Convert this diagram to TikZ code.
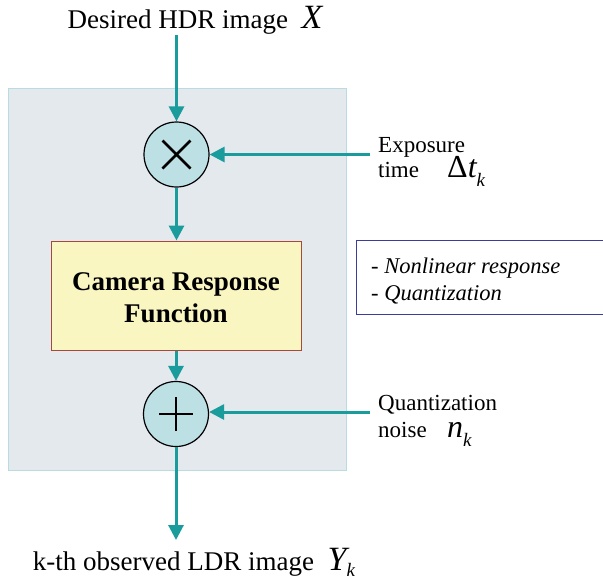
\documentclass[tikz,border=0pt]{standalone}
\usepackage{fontspec}
\setmainfont{Liberation Serif}
\usetikzlibrary{arrows.meta,positioning}
\definecolor{teal1}{HTML}{1A9C9C}
\definecolor{panelbg}{HTML}{E4E9EE}
\definecolor{panelline}{HTML}{B9DCE2}
\definecolor{crfbg}{HTML}{FAF6C2}
\definecolor{crfline}{HTML}{A8483A}
\definecolor{opfill}{HTML}{BCE0E4}
\definecolor{notebox}{HTML}{3C3C9C}
\newcommand{\subk}[2][0.4em]{\raisebox{-#1}{\fontsize{19}{19}\selectfont\itshape #2}}
\begin{document}
\begin{tikzpicture}[x=1pt,y=-1pt,
  flow/.style={draw=teal1,line width=3pt,-{Triangle[length=15pt,width=15pt]}},
  opnode/.style={circle,draw=black,line width=1.2pt,fill=opfill,minimum size=65pt,inner sep=0pt},
  lbl/.style={font=\fontsize{23}{27}\selectfont,inner sep=0pt,anchor=base west},
  caption/.style={font=\fontsize{27}{30}\selectfont,inner sep=0pt,anchor=base}]
\useasboundingbox (0,0) rectangle (603,582);
% shaded panel
\fill[panelbg,draw=panelline,line width=1pt] (8,88) rectangle (346,470);
% operators
\node[opnode] (mul) at (176.5,154.5) {};
\draw[line width=2.5pt] ([shift={(-14,-14)}]mul.center) -- ([shift={(14,14)}]mul.center)
                        ([shift={(-14,14)}]mul.center) -- ([shift={(14,-14)}]mul.center);
\node[opnode] (add) at (176,414) {};
\draw[line width=2.5pt] ([xshift=-17pt]add.center) -- ([xshift=17pt]add.center)
                        ([yshift=-17pt]add.center) -- ([yshift=17pt]add.center);
% camera response block
\node[draw=crfline,line width=1pt,fill=crfbg,minimum width=250pt,minimum height=109pt] (crf) at (176,295.5) {};
\node[font=\fontsize{27}{30}\selectfont\bfseries,inner sep=0pt,anchor=base] (crf1) at (176,290) {Camera Response};
\node[font=\fontsize{27}{30}\selectfont\bfseries,inner sep=0pt,anchor=base] (crf2) at (176,322) {Function};
% note box
\node[draw=notebox,line width=1pt,fill=white,minimum width=250pt,minimum height=74pt,anchor=north west,inner sep=0pt] (note) at (356,240) {};
\node[font=\fontsize{22.5}{26}\selectfont\itshape,inner sep=0pt,anchor=base west] (note1) at (371,273) {- Nonlinear response};
\node[font=\fontsize{22.5}{26}\selectfont\itshape,inner sep=0pt,anchor=base west] (note2) at (371,300) {- Quantization};
% captions
\node[caption] (hdr) at (195,28) {Desired HDR image\ \ {\fontsize{34}{34}\selectfont\itshape X}};
\node[caption] (ldr) at (194,570) {k-th observed LDR image\ \ {\fontsize{34}{34}\selectfont\itshape Y}\subk[0.25em]{k}};
\coordinate (hdrend) at (176.5,35);
\coordinate (ldrend) at (176,540);
% side inputs
\node[lbl] (expo1) at (378,152) {Exposure};
\node[lbl] (expo2) at (378,177) {time};
\node[lbl] (expo3) at (447,177) {{\fontsize{32}{32}\selectfont Δ\itshape t}\subk{k}};
\node[lbl] (noise1) at (378,410) {Quantization};
\node[lbl] (noise2) at (378,437) {noise};
\node[lbl] (noise3) at (447,437) {{\fontsize{32}{32}\selectfont\itshape n}\subk{k}};
\coordinate (expoin) at (370,154.5);
\coordinate (noisein) at (370,412);
% connectors
\draw[flow] (hdrend) -- (mul.north);
\draw[flow] (mul.south) -- (crf.north -| mul);
\draw[flow] (crf.south -| add) -- (add.north);
\draw[flow] (add.south) -- (ldrend);
\draw[flow] (expoin) -- (mul.east);
\draw[flow] (noisein) -- (add.east |- noisein);
\end{tikzpicture}
\end{document}
